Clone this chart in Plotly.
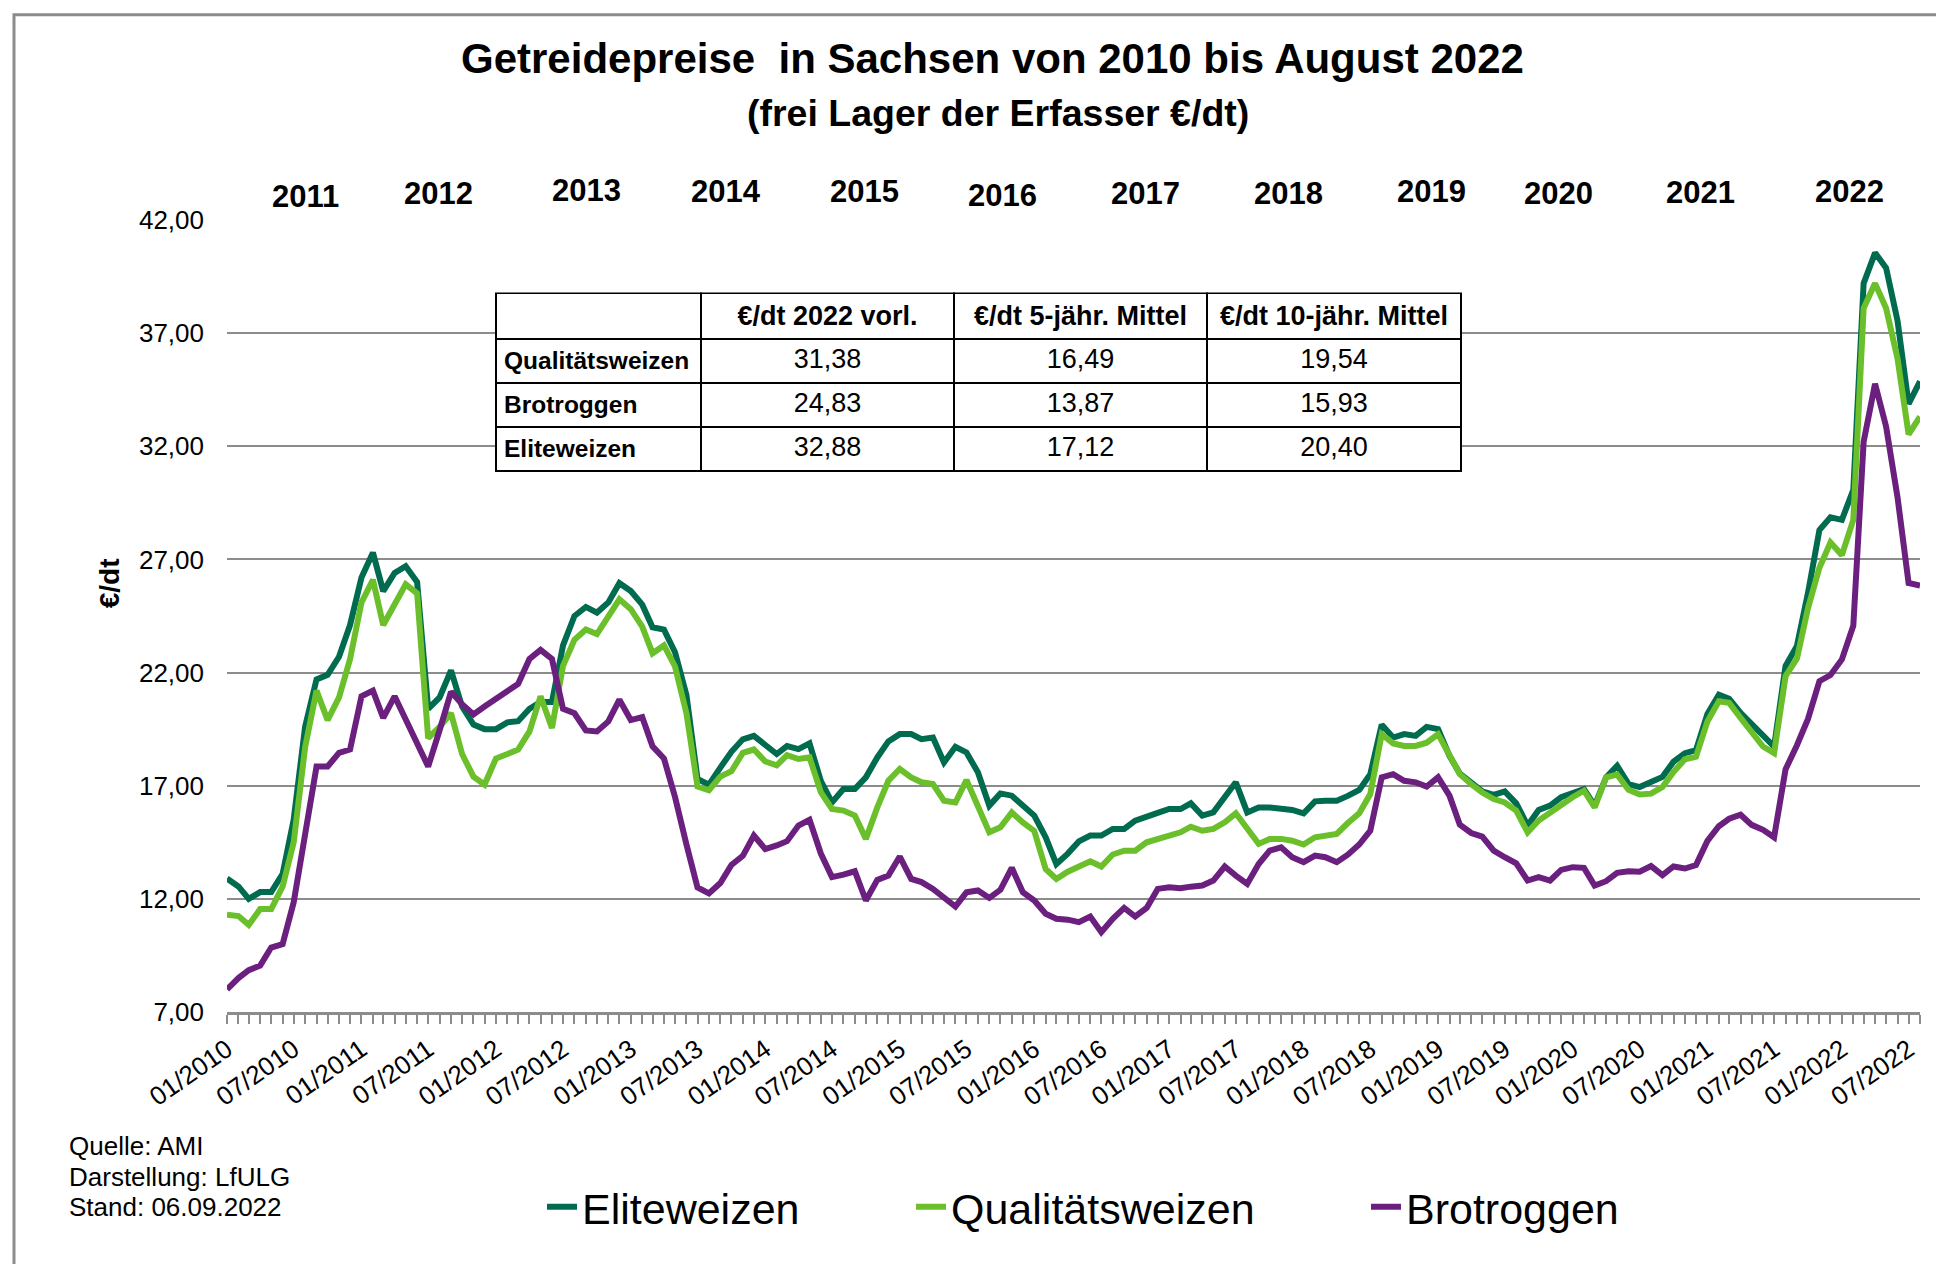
import pandas as pd
import plotly.graph_objects as go

# monthly prices, 01/2010 .. 08/2022 (EUR/dt)
months = pd.date_range("2010-01-01", "2022-08-01", freq="MS")

eliteweizen = [
    12.9, 12.55, 12.0, 12.3, 12.3, 13.1, 15.5, 19.6, 21.7, 21.9, 22.7, 24.1,
    26.2, 27.3, 25.6, 26.4, 26.7, 26.0, 20.4, 20.9, 22.1, 20.5, 19.7, 19.5,
    19.5, 19.8, 19.85, 20.4, 20.7, 20.7, 23.2, 24.5, 24.9, 24.65, 25.1, 25.95,
    25.6, 25.0, 24.0, 23.9, 22.9, 21.0, 17.3, 17.05, 17.8, 18.5, 19.05, 19.2,
    18.8, 18.4, 18.75, 18.62, 18.87, 17.2, 16.26, 16.85, 16.85, 17.37, 18.25, 18.96,
    19.28, 19.28, 19.06, 19.13, 18.03, 18.72, 18.47, 17.59, 16.12, 16.66, 16.56, 16.12,
    15.68, 14.72, 13.54, 14.0, 14.54, 14.8, 14.8, 15.09, 15.09, 15.46, 15.6, 15.8,
    15.97, 15.97, 16.22, 15.68, 15.82, 16.49, 17.15, 15.82, 16.04, 16.04, 16.0, 15.93,
    15.78, 16.31, 16.34, 16.34, 16.55, 16.81, 17.51, 19.7, 19.13, 19.28, 19.2, 19.6,
    19.5, 18.32, 17.54, 17.1, 16.75, 16.6, 16.75, 16.22, 15.24, 15.93, 16.12, 16.49,
    16.7, 16.85, 16.12, 17.37, 17.88, 17.07, 16.94, 17.17, 17.39, 18.06, 18.44, 18.57,
    20.17, 21.02, 20.84, 20.22, 19.73, 19.17, 18.73, 22.29, 23.18, 25.52, 28.3, 28.86,
    28.75, 30.08, 39.2, 40.55, 39.88, 37.55, 33.87, 34.87,
]

qualitaetsweizen = [
    11.3, 11.24, 10.85, 11.55, 11.55, 12.55, 14.5, 18.7, 21.2, 19.9, 20.9, 22.6,
    25.1, 26.1, 24.1, 25.0, 25.9, 25.5, 19.1, 19.6, 20.2, 18.4, 17.4, 17.05,
    18.2, 18.4, 18.6, 19.4, 20.95, 19.55, 22.3, 23.45, 23.9, 23.7, 24.5, 25.24,
    24.8, 24.03, 22.85, 23.2, 22.27, 20.2, 16.97, 16.8, 17.4, 17.64, 18.45, 18.6,
    18.07, 17.9, 18.35, 18.18, 18.25, 16.7, 15.97, 15.9, 15.68, 14.65, 16.04, 17.22,
    17.74, 17.37, 17.15, 17.07, 16.34, 16.26, 17.25, 16.04, 14.94, 15.16, 15.82, 15.38,
    15.0, 13.32, 12.88, 13.2, 13.43, 13.66, 13.43, 13.96, 14.13, 14.13, 14.5, 14.65,
    14.8, 14.94, 15.19, 15.01, 15.09, 15.38, 15.78, 15.09, 14.43, 14.65, 14.65, 14.57,
    14.4, 14.72, 14.8, 14.87, 15.35, 15.78, 16.63, 19.28, 18.87, 18.76, 18.76, 18.9,
    19.28, 18.32, 17.51, 17.07, 16.7, 16.41, 16.26, 15.9, 14.94, 15.46, 15.82, 16.12,
    16.49, 16.78, 16.04, 17.37, 17.49, 16.82, 16.61, 16.65, 16.94, 17.61, 18.17, 18.28,
    19.84, 20.73, 20.66, 20.0, 19.33, 18.73, 18.44, 21.84, 22.62, 24.85, 26.63, 27.75,
    27.19, 28.75, 38.1, 39.2, 38.1, 35.88, 32.53, 33.31,
]

brotroggen = [
    8.0, 8.5, 8.85, 9.05, 9.85, 10.0, 11.85, 14.9, 17.85, 17.85, 18.45, 18.6,
    20.95, 21.2, 20.0, 20.95, 19.9, 18.9, 17.85, 19.45, 21.15, 20.6, 20.15, 20.5,
    20.85, 21.2, 21.5, 22.6, 23.0, 22.6, 20.4, 20.2, 19.44, 19.4, 19.84, 20.8,
    19.9, 20.03, 18.74, 18.2, 16.5, 14.4, 12.5, 12.24, 12.7, 13.5, 13.9, 14.8,
    14.2, 14.36, 14.55, 15.24, 15.49, 13.99, 12.96, 13.07, 13.22, 11.93, 12.84, 13.03,
    13.87, 12.88, 12.74, 12.44, 12.07, 11.66, 12.29, 12.37, 12.04, 12.4, 13.37, 12.29,
    11.93, 11.34, 11.12, 11.08, 10.97, 11.22, 10.53, 11.12, 11.6, 11.22, 11.6, 12.44,
    12.51, 12.47, 12.54, 12.59, 12.81, 13.43, 13.03, 12.66, 13.54, 14.13, 14.28, 13.84,
    13.62, 13.91, 13.84, 13.62, 13.95, 14.4, 15.01, 17.37, 17.51, 17.22, 17.15, 16.96,
    17.37, 16.56, 15.28, 14.91, 14.75, 14.13, 13.84, 13.57, 12.81, 12.96, 12.81, 13.28,
    13.4, 13.37, 12.59, 12.78, 13.15, 13.22, 13.2, 13.45, 13.05, 13.43, 13.34, 13.49,
    14.56, 15.21, 15.54, 15.72, 15.27, 15.05, 14.72, 17.72, 18.79, 19.95, 21.62, 21.89,
    22.58, 24.07, 32.2, 34.76, 32.87, 29.75, 25.96, 25.85,
]

# summary table
table_header = ["", "€/dt 2022 vorl.", "€/dt 5-jähr. Mittel", "€/dt 10-jähr. Mittel"]
table_rows = ["Qualitätsweizen", "Brotroggen", "Eliteweizen"]
preis_2022 = ["31,38", "24,83", "32,88"]
mittel_5j = ["16,49", "13,87", "17,12"]
mittel_10j = ["19,54", "15,93", "20,40"]

# year captions above the plot
year_labels = ["2011", "2012", "2013", "2014", "2015", "2016",
               "2017", "2018", "2019", "2020", "2021", "2022"]
year_label_x = ["2010-08-01", "2011-07-28", "2012-09-04", "2013-09-16",
                "2014-09-28", "2015-10-07", "2016-10-28", "2017-11-21",
                "2018-12-13", "2019-11-25", "2020-12-13", "2022-01-22"]
year_label_py = [196, 193, 190, 191, 191, 195, 193, 193, 191, 193, 192, 191]

FONT = "Liberation Sans, Arial, sans-serif"
W, H = 1944, 1264
PAGE = 8                     # default body margin of the html page
L, R, T, B = 227, 1920, 219.5, 1012


def px2x(px):
    return (px - L) / (R - L)


def py2y(py):
    return (B - py) / (B - T)


series = [
    ("Eliteweizen", eliteweizen, "#006b4f", "legend", 583),
    ("Qualitätsweizen", qualitaetsweizen, "#6abf2a", "legend2", 952),
    ("Brotroggen", brotroggen, "#6b1f7e", "legend3", 1407),
]

fig = go.Figure()
for name, vals, col, lg, _ in series:
    fig.add_trace(go.Scatter(x=months, y=vals, name=name, mode="lines",
                             legend=lg, line=dict(color=col, width=6)))

fig.add_trace(go.Table(
    domain=dict(x=[px2x(496), px2x(1461)], y=[py2y(520), py2y(293)]),
    columnwidth=[205, 253, 253, 254],
    header=dict(values=["<b>%s</b>" % h for h in table_header],
                fill_color="white", line=dict(color="black", width=2),
                font=dict(family=FONT, size=27, color="black"),
                align="center", height=42),
    cells=dict(values=[["<b>%s</b>" % r for r in table_rows],
                       preis_2022, mittel_5j, mittel_10j],
               fill_color="white", line=dict(color="black", width=2),
               font=dict(family=FONT, size=[24.5, 27, 27, 27], color="black"),
               align=["left", "center", "center", "center"], height=44),
))

annotations = [
    dict(text="<b>Getreidepreise  in Sachsen von 2010 bis August 2022</b>",
         x=px2x(992), y=py2y(58), font=dict(size=42)),
    dict(text="<b>(frei Lager der Erfasser €/dt)</b>",
         x=px2x(998), y=py2y(112), font=dict(size=37.5)),
    dict(text="<b>€/dt</b>", x=px2x(109), y=py2y(583), textangle=-90,
         font=dict(size=28)),
]
for lab, xv, yp in zip(year_labels, year_label_x, year_label_py):
    annotations.append(dict(text="<b>%s</b>" % lab, x=xv, xref="x",
                            y=py2y(yp), font=dict(size=31)))
for txt, yp in [("Quelle: AMI", 1146), ("Darstellung: LfULG", 1177),
                ("Stand: 06.09.2022", 1207)]:
    annotations.append(dict(text=txt, x=px2x(67), y=py2y(yp), xanchor="left",
                            font=dict(size=26)))
for a in annotations:
    a.setdefault("xref", "paper")
    a["yref"] = "paper"
    a["showarrow"] = False
    a.setdefault("xanchor", "center")
    a["yanchor"] = "middle"
    a["font"]["family"] = FONT
    a["font"]["color"] = "black"

legend_style = dict(orientation="h", y=py2y(1207), xanchor="left",
                    yanchor="middle", bgcolor="rgba(0,0,0,0)",
                    font=dict(size=43, family=FONT, color="black"))

fig.update_layout(
    width=W - PAGE, height=H - PAGE,
    margin=dict(l=L - PAGE, r=W - R, t=T - PAGE, b=H - B),
    paper_bgcolor="white", plot_bgcolor="white",
    separators=",.",
    font=dict(family=FONT, color="black"),
    showlegend=True,
    annotations=annotations,
    shapes=[dict(type="rect", xref="paper", yref="paper",
                 x0=px2x(14), x1=px2x(1990), y0=py2y(1300), y1=py2y(14),
                 line=dict(color="#8c8c8c", width=3), layer="below")],
)
for name, vals, col, lg, text_px in series:
    fig.update_layout({lg: dict(legend_style, x=px2x(text_px - 41))})

fig.update_xaxes(
    range=[months[0], months[-1]],
    tickformat="%m/%Y", dtick="M6", tick0="2010-01-01",
    tickangle=-35, tickfont=dict(size=26, family=FONT, color="black"),
    ticks="outside", ticklen=9, tickwidth=2, tickcolor="#8c8c8c",
    minor=dict(dtick="M1", ticks="outside", ticklen=9, tickwidth=2,
               tickcolor="#8c8c8c", showgrid=False),
    showline=True, linecolor="#8c8c8c", linewidth=3,
    showgrid=False, zeroline=False,
)
fig.update_yaxes(
    range=[7, 42], dtick=5, tick0=7, tickformat=".2f",
    tickfont=dict(size=26, family=FONT, color="black"),
    showgrid=True, gridcolor="#8c8c8c", gridwidth=2,
    zeroline=False, showline=False, ticks="", ticklabelstandoff=22,
)

fig.write_html("out.html")
